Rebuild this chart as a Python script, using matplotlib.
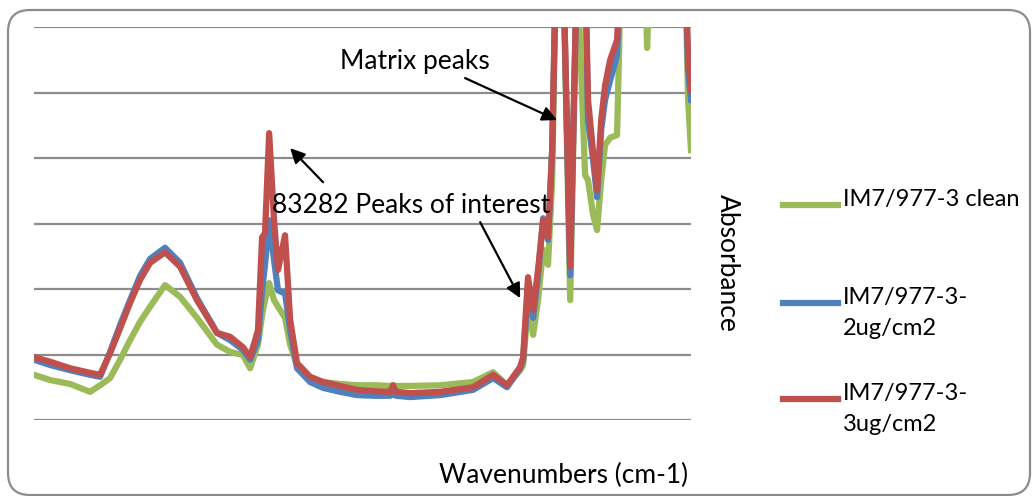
import matplotlib.pyplot as plt
from matplotlib.lines import Line2D
from matplotlib.patches import FancyBboxPatch

# wavenumbers (cm-1)
wavenumbers = [4000, 3918, 3816, 3714, 3663, 3612, 3561, 3510, 3459, 3408,
               3332, 3255, 3169, 3067, 3000, 2934, 2898, 2858, 2837, 2822,
               2801, 2776, 2756, 2735, 2720, 2694, 2659, 2592, 2526, 2439,
               2353, 2261, 2184, 2169, 2154, 2082, 1929, 1761, 1659, 1588,
               1521, 1506, 1481, 1455, 1430, 1404, 1379, 1358, 1338, 1302,
               1266, 1231, 1190, 1175, 1149, 1129, 1108, 1088, 1062, 1027,
               1006, 909, 884, 874, 858, 807, 705, 680, 665, 650]

# absorbance values (arbitrary units, values above 6 are off the top of the chart)
clean = [0.69, 0.61, 0.55, 0.43, 0.53, 0.64, 0.92, 1.22, 1.50, 1.73,
         2.06, 1.88, 1.56, 1.15, 1.04, 0.99, 0.79, 1.15, 1.60, 1.83,
         2.09, 1.83, 1.73, 1.63, 1.56, 1.15, 0.84, 0.64, 0.58, 0.55,
         0.53, 0.53, 0.52, 0.53, 0.52, 0.52, 0.53, 0.58, 0.73, 0.53,
         0.76, 0.84, 1.76, 1.30, 1.83, 2.60, 2.37, 3.66, 7.0, 7.0,
         1.83, 7.0, 3.74, 3.66, 3.13, 2.90, 3.66, 4.20, 4.31, 4.35,
         7.0, 7.0, 7.0, 5.68, 7.0, 7.0, 7.0, 7.0, 4.89, 4.12]

dose_2ug = [0.92, 0.84, 0.76, 0.69, 0.66, 1.04, 1.45, 1.83, 2.20, 2.46,
            2.63, 2.40, 1.86, 1.33, 1.22, 1.07, 0.92, 1.22, 1.98, 2.37,
            3.05, 2.44, 1.98, 1.95, 1.94, 1.37, 0.79, 0.58, 0.49, 0.43,
            0.38, 0.37, 0.37, 0.40, 0.37, 0.35, 0.38, 0.46, 0.64, 0.50,
            0.79, 0.92, 1.98, 1.56, 2.21, 3.08, 2.75, 4.12, 7.0, 7.0,
            2.21, 7.0, 7.0, 4.58, 3.97, 3.40, 4.43, 4.89, 5.19, 5.57,
            7.0, 7.0, 7.0, 7.0, 7.0, 7.0, 7.0, 7.0, 5.34, 4.89]

dose_3ug = [0.96, 0.89, 0.79, 0.72, 0.69, 1.02, 1.40, 1.79, 2.14, 2.40,
            2.56, 2.34, 1.83, 1.33, 1.27, 1.11, 0.96, 1.37, 2.79, 2.85,
            4.38, 3.05, 2.29, 2.60, 2.82, 1.53, 0.87, 0.66, 0.58, 0.52,
            0.46, 0.44, 0.43, 0.53, 0.43, 0.41, 0.43, 0.50, 0.69, 0.53,
            0.81, 0.96, 2.18, 1.68, 2.29, 3.05, 2.79, 4.12, 7.0, 7.0,
            2.34, 7.0, 7.0, 4.89, 4.08, 3.51, 4.58, 5.11, 5.50, 5.80,
            7.0, 7.0, 7.0, 7.0, 7.0, 7.0, 7.0, 7.0, 5.57, 5.04]

labels = ["IM7/977-3 clean", "IM7/977-3-\n2ug/cm2", "IM7/977-3-\n3ug/cm2"]
colors = ["#9BBB59", "#4F81BD", "#C0504D"]

plt.rcParams["font.family"] = ["Lato", "DejaVu Sans"]

fig = plt.figure(figsize=(10.34, 4.96), dpi=100)
ax = fig.add_axes([34 / 1034, 1 - 420 / 496, 657 / 1034, 393 / 496])

for series, color in zip([clean, dose_2ug, dose_3ug], colors):
    ax.plot(wavenumbers, series, color=color, lw=4.5, solid_joinstyle="round")

ax.set_xlim(4000, 650)
ax.set_ylim(0, 6)
ax.set_yticks(range(7))
ax.set_xticks([])
ax.tick_params(left=False, labelleft=False)
ax.grid(axis="y", color="#8c8c8c", lw=1.6)
ax.set_axisbelow(True)
for s in ax.spines.values():
    s.set_visible(False)

arrow = dict(arrowstyle="-|>", color="black", lw=1.6, mutation_scale=22,
             shrinkA=0, shrinkB=0)
ax.text(2439, 5.47, "Matrix peaks", fontsize=19, ha="left", va="center")
ax.annotate("", xy=(1333, 4.58), xytext=(1802, 5.22), arrowprops=arrow)
ax.text(2786, 3.28, "83282 Peaks of interest", fontsize=19, ha="left", va="center")
ax.annotate("", xy=(2694, 4.15), xytext=(2526, 3.63), arrowprops=arrow)
ax.annotate("", xy=(1521, 1.86), xytext=(1725, 3.02), arrowprops=arrow)

fig.text(688 / 1034, 1 - 475 / 496, "Wavenumbers (cm-1)", fontsize=19,
         ha="right", va="center")
fig.text(727 / 1034, 1 - 263 / 496, "Absorbance", fontsize=19,
         rotation=270, ha="center", va="center")

# legend drawn by hand so the swatch sits on the first line of each label
for label, color, y in zip(labels, colors, [205, 303, 399]):
    fy = 1 - y / 496
    fig.add_artist(Line2D([783 / 1034, 838 / 1034], [fy, fy], color=color,
                          lw=4.5, transform=fig.transFigure))
    fig.text(843 / 1034, 1 - (y - 16) / 496, label, fontsize=17, ha="left",
             va="top", linespacing=1.6)

fig.add_artist(FancyBboxPatch((8, 1), 1022, 485,
                              boxstyle="round,pad=0,rounding_size=22",
                              fill=False, edgecolor="#8c8c8c", lw=1.6,
                              transform=None))

fig.savefig("out.png", dpi=100)
